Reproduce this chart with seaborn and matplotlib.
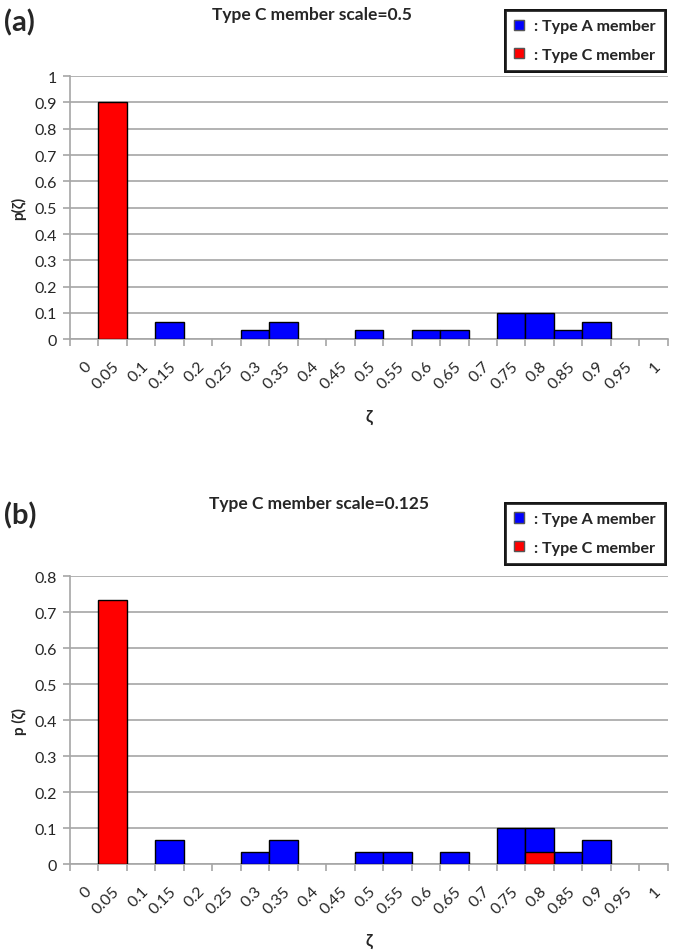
import numpy as np
import pandas as pd
import matplotlib
matplotlib.use("Agg")
import matplotlib.pyplot as plt
import seaborn as sns
from matplotlib.patches import Patch

sns.set_theme(style="white")
plt.rcParams['font.family'] = ['Lato', 'DejaVu Sans']

# category labels (zeta bins)
zeta = ['0', '0.05', '0.1', '0.15', '0.2', '0.25', '0.3', '0.35', '0.4', '0.45', '0.5',
        '0.55', '0.6', '0.65', '0.7', '0.75', '0.8', '0.85', '0.9', '0.95', '1']

# panel (a): Type C member scale=0.5
a_type_a = [0, 0, 0, 0.0667, 0, 0, 0.0333, 0.0667, 0, 0, 0.0333,
            0, 0.0333, 0.0333, 0, 0.1, 0.1, 0.0333, 0.0667, 0, 0]
a_type_c = [0, 0.9, 0, 0, 0, 0, 0, 0, 0, 0, 0,
            0, 0, 0, 0, 0, 0, 0, 0, 0, 0]

# panel (b): Type C member scale=0.125
b_type_a = [0, 0, 0, 0.0667, 0, 0, 0.0333, 0.0667, 0, 0, 0.0333,
            0.0333, 0, 0.0333, 0, 0.1, 0.1, 0.0333, 0.0667, 0, 0]
b_type_c = [0, 0.733, 0, 0, 0, 0, 0, 0, 0, 0, 0,
            0, 0, 0, 0, 0, 0.0333, 0, 0, 0, 0]

BLUE = '#0000ff'
RED = '#ff0000'
GRID = '#a6a6a6'

fig = plt.figure(figsize=(6.85, 9.53), dpi=100)
ax_a = fig.add_axes([0.102, 0.643, 0.873, 0.276])
ax_b = fig.add_axes([0.102, 0.0923, 0.873, 0.302])


def draw_panel(ax, vals_a, vals_c, ymax, ylabel):
    df = pd.DataFrame({'zeta': zeta, 'A': vals_a, 'C': vals_c})
    da = df[df['A'] > 0]
    dc = df[df['C'] > 0]
    sns.barplot(data=da, x='zeta', y='A', order=zeta, color=BLUE, saturation=1,
                width=1.0, edgecolor='black', linewidth=1, ax=ax, zorder=3)
    sns.barplot(data=dc, x='zeta', y='C', order=zeta, color=RED, saturation=1,
                width=1.0, edgecolor='black', linewidth=1, ax=ax, zorder=4)
    ax.set_xlim(-0.5, len(zeta) - 0.5)
    ax.set_ylim(0, ymax)
    yt = np.arange(0, ymax + 0.001, 0.1).round(1)
    ax.set_yticks(yt)
    ax.set_yticklabels([f'{v:g}' for v in yt], fontsize=11.5)
    ax.yaxis.grid(True, color=GRID, linewidth=1.2, zorder=0)
    ax.set_axisbelow(True)
    for s in ['top', 'right']:
        ax.spines[s].set_visible(False)
    for s in ['left', 'bottom']:
        ax.spines[s].set_color(GRID)
        ax.spines[s].set_linewidth(1.2)
    # ticks at category boundaries
    ax.set_xticks(np.arange(-0.5, len(zeta), 1.0), minor=True)
    ax.tick_params(axis='x', which='minor', length=5, color=GRID, width=1.2,
                   bottom=True)
    ax.set_xticks(range(len(zeta)))
    ax.set_xticklabels(zeta, rotation=45, ha='right', rotation_mode='anchor',
                       fontsize=11.5)
    ax.tick_params(axis='x', which='major', length=0, pad=14)
    ax.tick_params(axis='y', length=5, color=GRID, width=1.2, left=True, pad=4)
    ax.set_xlabel('ζ', fontsize=12, fontweight='bold', labelpad=12)
    ax.set_ylabel(ylabel, fontsize=11, fontweight='bold', labelpad=6)


draw_panel(ax_a, a_type_a, a_type_c, 1.0, 'p(ζ)')
draw_panel(ax_b, b_type_a, b_type_c, 0.8, 'p (ζ)')

# titles and panel letters
fig.text(0.455, 0.984, 'Type C member scale=0.5', ha='center', va='center',
         fontsize=12.5, fontweight='bold')
fig.text(0.006, 0.976, '(a)', ha='left', va='center', fontsize=21, fontweight='bold')
fig.text(0.465, 0.471, 'Type C member scale=0.125', ha='center', va='center',
         fontsize=12.5, fontweight='bold')
fig.text(0.006, 0.459, '(b)', ha='left', va='center', fontsize=21, fontweight='bold')

handles = [Patch(facecolor=BLUE, edgecolor='#555555', label=': Type A member'),
           Patch(facecolor=RED, edgecolor='#555555', label=': Type C member')]
for anchor in [(0.982, 0.997), (0.982, 0.480)]:
    leg = fig.legend(handles=handles, loc='upper right', bbox_to_anchor=anchor,
                     frameon=True, fancybox=False,
                     prop={'weight': 'bold', 'size': 11.5},
                     handlelength=0.6, handleheight=0.6, handletextpad=0.6,
                     labelspacing=0.9, borderpad=0.6)
    leg.get_frame().set_edgecolor('black')
    leg.get_frame().set_linewidth(2)
    fig.add_artist(leg)

fig.savefig('out.png', dpi=100)
